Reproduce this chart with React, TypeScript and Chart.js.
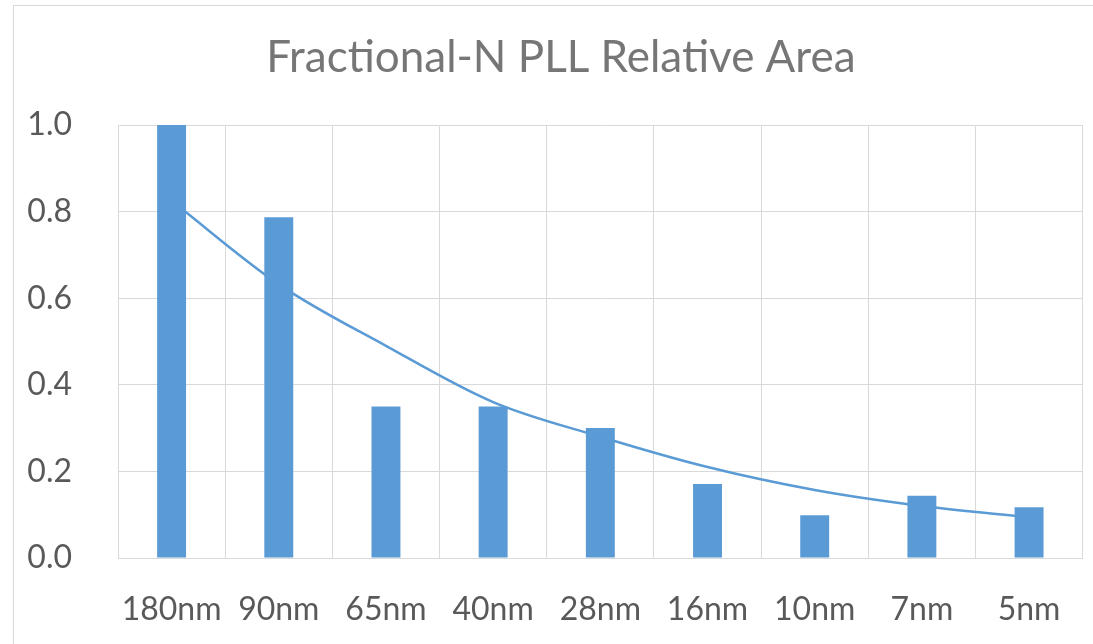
import React, { useEffect, useRef } from "react";
import { Chart, registerables } from "chart.js";

Chart.register(...registerables);

const categories = ["180nm", "90nm", "65nm", "40nm", "28nm", "16nm", "10nm", "7nm", "5nm"];
const relativeArea = [1.0, 0.787, 0.35, 0.35, 0.3, 0.171, 0.099, 0.144, 0.117];
const trendline = [0.825, 0.632, 0.49, 0.36, 0.28, 0.21, 0.157, 0.12, 0.094];
const titleText = "Fractional-N PLL Relative Area";

const BLUE = "#5B9BD5";
const GRID = "#d9d9d9";
const FONT = "Lato";

const titlePlugin = {
  id: "centeredTitle",
  afterDraw(chart: any) {
    const ctx = chart.ctx;
    ctx.save();
    ctx.font = `normal 44px ${FONT}`;
    ctx.fillStyle = "#767676";
    ctx.textAlign = "center";
    ctx.textBaseline = "middle";
    const x = (39 + chart.chartArea.right) / 2;
    ctx.fillText(titleText, x, 58);
    ctx.restore();
  },
};

export default function App() {
  const ref = useRef<HTMLCanvasElement | null>(null);

  useEffect(() => {
    if (!ref.current) return;
    const chart = new Chart(ref.current, {
      type: "bar",
      data: {
        labels: categories,
        datasets: [
          {
            type: "bar",
            label: "Relative Area",
            data: relativeArea,
            backgroundColor: BLUE,
            borderWidth: 0,
            categoryPercentage: 1,
            barPercentage: 0.27,
            order: 1,
          },
          {
            type: "line",
            label: "Trend",
            data: trendline,
            borderColor: BLUE,
            borderWidth: 2.5,
            pointRadius: 0,
            tension: 0.4,
            cubicInterpolationMode: "monotone",
            fill: false,
            order: 2,
          } as any,
        ],
      },
      options: {
        responsive: false,
        animation: false,
        layout: { padding: { left: 0, right: 10, top: 125, bottom: 0 } },
        plugins: {
          legend: { display: false },
          tooltip: { enabled: false },
          title: { display: false },
        },
        scales: {
          x: {
            grid: { color: GRID, lineWidth: 1, drawTicks: false, offset: true },
            border: { display: true, color: GRID },
            ticks: {
              color: "#595959",
              font: { family: FONT, size: 32 },
              padding: 32,
              maxRotation: 0,
              autoSkip: false,
            },
            afterFit: (s: any) => {
              s.height = 86;
            },
          },
          y: {
            min: 0,
            max: 1,
            grid: { color: GRID, lineWidth: 1, drawTicks: false },
            border: { display: true, color: GRID },
            ticks: {
              stepSize: 0.2,
              color: "#595959",
              font: { family: FONT, size: 32 },
              padding: 46,
              callback: (v: any) => Number(v).toFixed(1),
            },
            afterFit: (s: any) => {
              s.width = 118;
            },
          },
        },
      },
      plugins: [titlePlugin],
    });
    return () => chart.destroy();
  }, []);

  return (
    <div style={{ position: "fixed", left: 0, top: 0, width: 1093, height: 644, background: "#fff", overflow: "hidden" }}>
      <div
        style={{
          position: "absolute",
          left: 13,
          top: 5,
          width: 1200,
          height: 800,
          borderTop: "1.5px solid #d9d9d9",
          borderLeft: "1.5px solid #d9d9d9",
          boxSizing: "border-box",
        }}
      />
      <canvas ref={ref} width={1093} height={644} style={{ position: "absolute", left: 0, top: 0 }} />
    </div>
  );
}
